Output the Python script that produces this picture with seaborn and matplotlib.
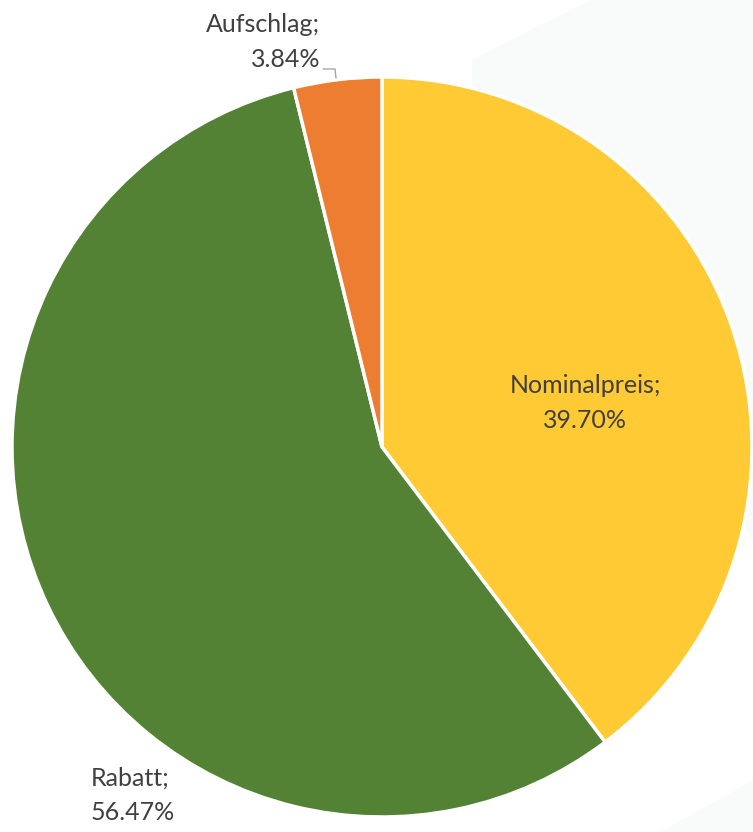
import numpy as np
import matplotlib
matplotlib.use("Agg")
import matplotlib.pyplot as plt
import seaborn as sns
from matplotlib.patches import Polygon

labels = ["Nominalpreis", "Rabatt", "Aufschlag"]
values = [39.70, 56.47, 3.84]
colors = ["#FFCA33", "#548235", "#ED7D31"]

sns.set_theme(style="white")
plt.rcParams['font.family'] = ['Lato', 'DejaVu Sans']

W, H = 753, 832
fig = plt.figure(figsize=(W / 100, H / 100), dpi=100)
fig.patch.set_facecolor("white")

# faint background shapes (behind the pie)
for pts in ([(472, 60), (590, 0), (753, 0), (753, 540), (472, 200)],
            [(660, 832), (753, 780), (753, 832)]):
    fig.patches.append(Polygon([(x / W, 1 - y / H) for x, y in pts], closed=True,
                               transform=fig.transFigure, facecolor="#f9fafa",
                               edgecolor="none", zorder=-5))

# pie: center (382, 447) px, radius 370 px
cx, cy, r = 382, 447, 370
ax = fig.add_axes([(cx - r) / W, 1 - (cy + r) / H, 2 * r / W, 2 * r / H])
ax.set_zorder(1)
ax.patch.set_visible(False)
ax.pie(values, colors=colors, startangle=90, counterclock=False, radius=1,
       wedgeprops=dict(edgecolor="white", linewidth=2.5))
ax.set_xlim(-1, 1)
ax.set_ylim(-1, 1)
ax.set_aspect("auto")
ax.axis("off")


def px(x, y):
    return (x - cx) / r, (cy - y) / r


txt = dict(color="#404040", fontsize=18, linespacing=1.6, clip_on=False)
texts = [f"{l};\n{v:.2f}%" for l, v in zip(labels, values)]
ax.text(*px(585, 403), texts[0], ha="center", va="center", **txt)
ax.text(*px(91, 795), texts[1], ha="left", va="center", **txt)
ax.text(*px(320, 42), texts[2], ha="right", va="center", multialignment="right", **txt)

lx, ly = zip(px(323, 69), px(335, 69), px(336, 78))
ax.plot(lx, ly, color="#a6a6a6", lw=1, clip_on=False)

fig.savefig("out.png", dpi=100, facecolor="white")
